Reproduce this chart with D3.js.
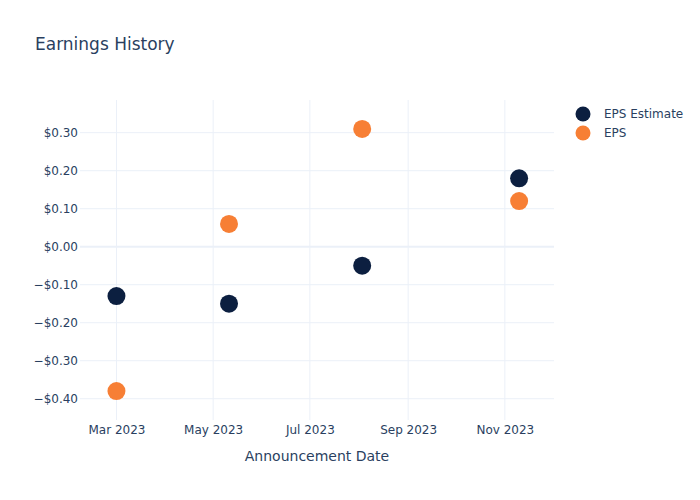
<!DOCTYPE html>
<html><head><meta charset="utf-8">
<script src="https://cdn.jsdelivr.net/npm/d3@7"></script>
<style>body{margin:0;background:#fff}svg,svg text{font-family:"DejaVu Sans",verdana,arial,sans-serif}</style>
</head><body>
<script>
const dates = ["2023-03-01","2023-05-11","2023-08-03","2023-11-10"];
const epsEstimate = [-0.13,-0.15,-0.05,0.18];
const eps = [-0.38,0.06,0.31,0.12];
const yTicks = [-0.4,-0.3,-0.2,-0.1,0,0.1,0.2,0.3];
const xTickDates = ["2023-03-01","2023-05-01","2023-07-01","2023-09-01","2023-11-01"];
const seriesNames = ["EPS Estimate","EPS"];
const colors = ["#0c1f40","#f77f35"];

const W=700,H=500, L=80, R=554, T=100, B=420;
const parse = d3.utcParse("%Y-%m-%d");
const svg = d3.select("body").append("svg").attr("width",W).attr("height",H);
const x = d3.scaleUtc().domain([parse("2023-02-06"),parse("2023-12-02")]).range([L,R]);
const y = d3.scaleLinear().domain([-0.456,0.386]).range([B,T]);
const txt="#2a3f5f", grid="#ebf0f8";
const FF='"DejaVu Sans",verdana,arial,sans-serif';

// grid
svg.append("g").selectAll("line").data(xTickDates).join("line")
  .attr("x1",d=>x(parse(d))).attr("x2",d=>x(parse(d))).attr("y1",T).attr("y2",B)
  .attr("stroke",grid).attr("stroke-width",1);
svg.append("g").selectAll("line").data(yTicks).join("line")
  .attr("x1",L).attr("x2",R).attr("y1",d=>y(d)).attr("y2",d=>y(d))
  .attr("stroke",grid).attr("stroke-width",d=>d===0?2:1);

// axes
const xAxis = d3.axisBottom(x).tickValues(xTickDates.map(parse)).tickFormat(d3.utcFormat("%b %Y")).tickSize(0);
const gx = svg.append("g").attr("transform",`translate(0,${B})`).call(xAxis).attr("font-family",FF).attr("font-size",12);
gx.select(".domain").remove();
gx.selectAll("text").attr("fill",txt).attr("dy","0.71em").attr("y",5);

const fmt = v => (v<0?"\u2212":"")+"$"+Math.abs(v).toFixed(2);
const yAxis = d3.axisLeft(y).tickValues(yTicks).tickFormat(fmt).tickSize(0).tickPadding(2);
const gy = svg.append("g").attr("transform",`translate(${L},0)`).call(yAxis).attr("font-family",FF).attr("font-size",12);
gy.select(".domain").remove();
gy.selectAll("text").attr("fill",txt);

// title & axis title
svg.append("text").attr("x",35).attr("y",50).attr("fill",txt).style("font-size","17px").text("Earnings History");
svg.append("text").attr("x",(L+R)/2).attr("y",461).attr("text-anchor","middle").attr("fill",txt).style("font-size","14px").text("Announcement Date");

// points
const series=[epsEstimate,eps];
series.forEach((vals,i)=>{
  svg.append("g").selectAll("circle").data(vals).join("circle")
    .attr("cx",(d,j)=>x(parse(dates[j]))).attr("cy",d=>y(d)).attr("r",9)
    .attr("fill",colors[i]);
});

// legend
const lg = svg.append("g");
seriesNames.forEach((n,i)=>{
  const yy=114+i*19;
  lg.append("circle").attr("cx",583).attr("cy",yy).attr("r",7.5).attr("fill",colors[i]);
  lg.append("text").attr("x",604).attr("y",yy).attr("dy","0.35em").attr("fill",txt).style("font-size","12px").text(n);
});
</script>
</body></html>
